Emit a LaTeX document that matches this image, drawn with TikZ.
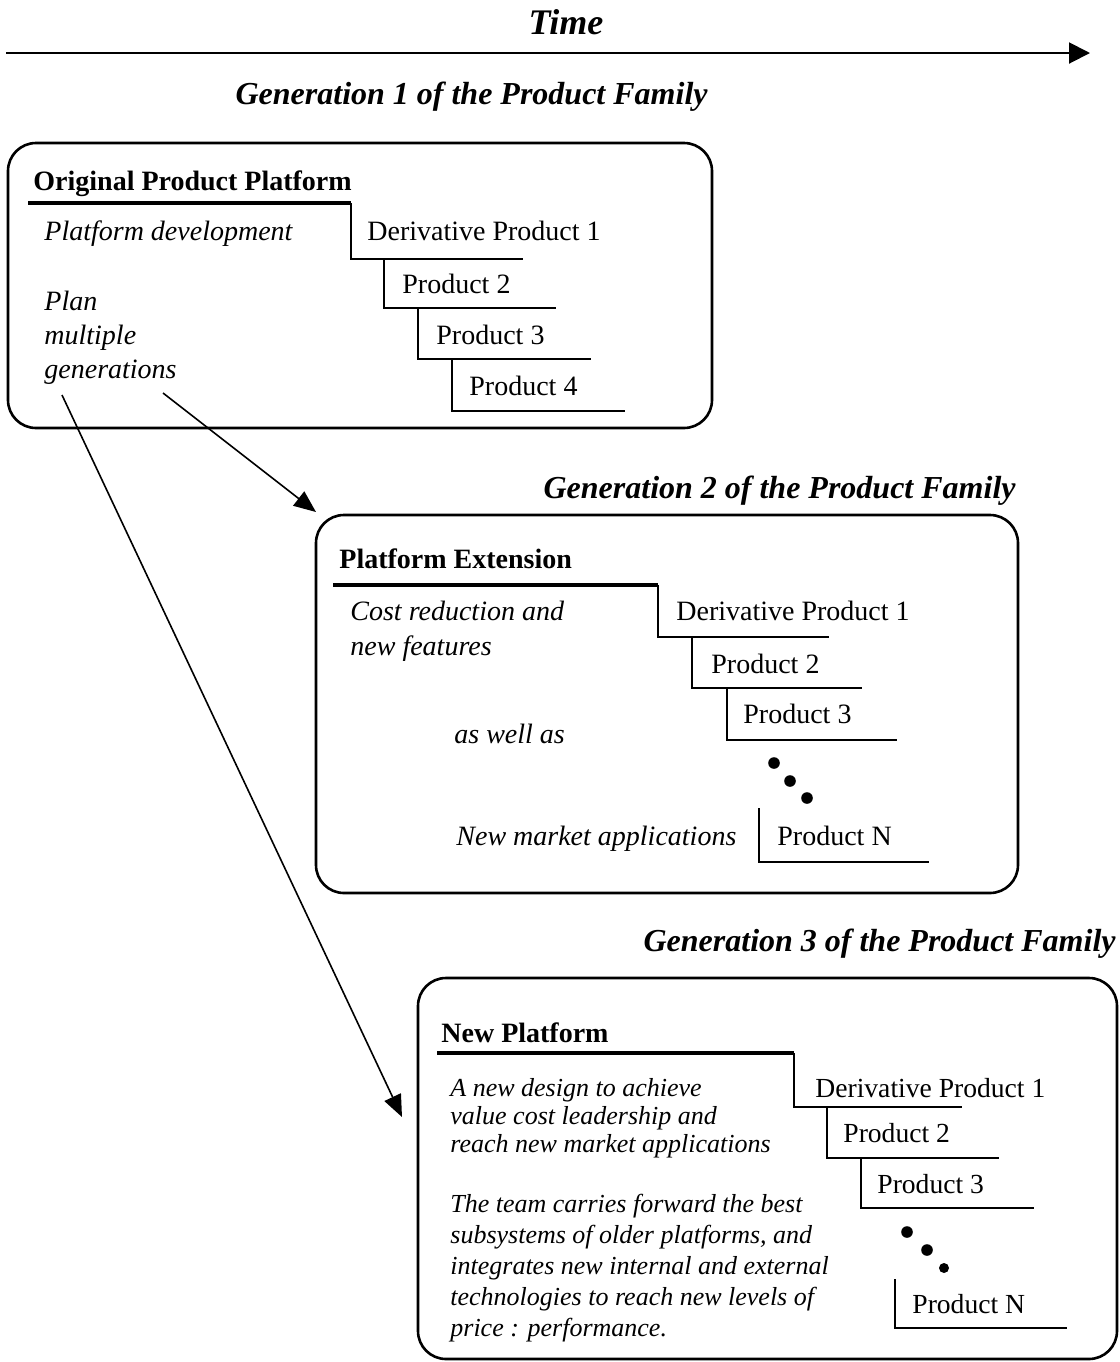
\documentclass[tikz,border=0pt]{standalone}
\usepackage{fontspec}
\setmainfont{Liberation Serif}
\usetikzlibrary{positioning}
\usetikzlibrary{arrows.meta}
\usetikzlibrary{calc, fit}
\tikzset{%
	% Specifications for style of nodes:
	base/.style = {inner sep=0pt, anchor=base west,
		font=\fontsize{14}{17}\selectfont},
	prodLbl/.style = {base},
	prodSmall/.style = {base, font=\fontsize{13.8}{16}\selectfont},
	noteLbl/.style = {base, font=\fontsize{14}{17}\selectfont\itshape},
	noteBlock/.style = {inner sep=0pt, anchor=north west, align=left},
	headLbl/.style = {base, font=\fontsize{14}{17}\selectfont\bfseries},
	genLbl/.style = {inner sep=0pt, anchor=east,
		font=\fontsize{16}{19}\selectfont\bfseries\itshape},
	famBox/.style = {draw=black, line width=1.3pt, rounded corners=14pt, inner sep=0pt},
	platLine/.style = {line width=1.7pt},
	stepLine/.style = {line width=0.8pt},
	genArrow/.style = {line width=0.8pt, -{Triangle[length=11pt, width=9pt]}}
}
\begin{document}
\begin{tikzpicture}[x=0.5pt, y=-0.5pt]
		\useasboundingbox (0,0) rectangle (1120,1362);
		%% Time axis
		\node [inner sep=0pt, font=\fontsize{18}{21}\selectfont\bfseries\itshape] (timeLbl) at (566,22) {Time};
		\coordinate (timeStart) at (6,53);
		\coordinate (timeEnd) at (1090,53);
		\draw [line width=1pt, -{Triangle[length=10.5pt, width=10.5pt]}] (timeStart) -- (timeEnd);
		%% Generation 1
		\coordinate (b1NW) at (8,143);
		\coordinate (b1SE) at (712,428);
		\node (box1) [famBox, fit={(b1NW) (b1SE)}] {};
		\node [genLbl] (gen1Lbl) at (708,97) {Generation 1 of the Product Family};
		\node [headLbl] (orig) at (33,190) {Original Product Platform};
		\draw [platLine] (28,203) -- (351,203);
		\node [noteLbl] (platDev) at (44,240) {Platform development};
		\node [noteBlock, font=\fontsize{14}{17}\selectfont\itshape] (plan) at (44,290.5) {Plan\\multiple\\generations};
		\node [prodLbl] (g1p1) at (367,240) {Derivative Product 1};
		\node [prodLbl] (g1p2) at (402,293) {Product 2};
		\node [prodLbl] (g1p3) at (436,344) {Product 3};
		\node [prodLbl] (g1p4) at (469,395) {Product 4};
		\draw [stepLine] (351,203) -- (351,259) -- (523,259);
		\draw [stepLine] (384,259) -- (384,308) -- (556,308);
		\draw [stepLine] (418,308) -- (418,359) -- (591,359);
		\draw [stepLine] (452,359) -- (452,411) -- (625,411);
		%% Generation 2
		\coordinate (b2NW) at (316,515);
		\coordinate (b2SE) at (1018,893);
		\node (box2) [famBox, fit={(b2NW) (b2SE)}] {};
		\node [genLbl] (gen2Lbl) at (1016,491) {Generation 2 of the Product Family};
		\node [headLbl] (ext) at (339,568) {Platform Extension};
		\draw [platLine] (333,585) -- (658,585);
		\node [noteBlock, font=\fontsize{14}{17.5}\selectfont\itshape] (costRed) at (350,600.5) {Cost reduction and\\new features};
		\node [noteLbl] (asWell) at (454,743) {as well as};
		\node [noteLbl] (newMkt) at (456,845) {New market applications};
		\node [prodLbl] (g2p1) at (676,620) {Derivative Product 1};
		\node [prodLbl] (g2p2) at (711,673) {Product 2};
		\node [prodLbl] (g2p3) at (743,723) {Product 3};
		\node [prodLbl] (g2pN) at (777,845) {Product N};
		\draw [stepLine] (658,585) -- (658,637) -- (829,637);
		\draw [stepLine] (692,637) -- (692,688) -- (862,688);
		\draw [stepLine] (727,688) -- (727,740) -- (897,740);
		\draw [stepLine] (759,808) -- (759,862) -- (929,862);
		\fill (774,763) circle (2.9pt) (790,781) circle (2.9pt) (807,798) circle (2.9pt);
		%% Generation 3
		\coordinate (b3NW) at (418,978);
		\coordinate (b3SE) at (1117,1359);
		\node (box3) [famBox, fit={(b3NW) (b3SE)}] {};
		\node [genLbl] (gen3Lbl) at (1116,944) {Generation 3 of the Product Family};
		\node [headLbl] (newPlat) at (441,1042) {New Platform};
		\draw [platLine] (437,1053) -- (794,1053);
		\node [noteBlock, font=\fontsize{13}{14}\selectfont\itshape] (newDesign) at (450,1078) {A new design to achieve\\value cost leadership and\\reach new market applications};
		\node [noteBlock, font=\fontsize{13}{15.5}\selectfont\itshape] (team) at (450,1194) {The team carries forward the best\\subsystems of older platforms, and\\integrates new internal and external\\technologies to reach new levels of\\price : performance.};
		\node [prodSmall] (g3p1) at (815,1097) {Derivative Product 1};
		\node [prodSmall] (g3p2) at (843,1142) {Product 2};
		\node [prodSmall] (g3p3) at (877,1193) {Product 3};
		\node [prodSmall] (g3pN) at (912,1313) {Product N};
		\draw [stepLine] (794,1053) -- (794,1107) -- (962,1107);
		\draw [stepLine] (827,1107) -- (827,1158) -- (999,1158);
		\draw [stepLine] (861,1158) -- (861,1208) -- (1034,1208);
		\draw [stepLine] (895,1279) -- (895,1328) -- (1067,1328);
		\fill (907,1232) circle (2.9pt) (927,1250) circle (2.9pt) (944,1268) circle (2.5pt);
		%% path
		\coordinate (planFootA) at (62,395);
		\coordinate (planFootB) at (163,393);
		\coordinate (gen2In) at (316,512);
		\coordinate (gen3In) at (402,1117);
		\draw [genArrow] (planFootB) -- (gen2In);
		\draw [genArrow] (planFootA) -- (gen3In);
	\end{tikzpicture}
\end{document}
